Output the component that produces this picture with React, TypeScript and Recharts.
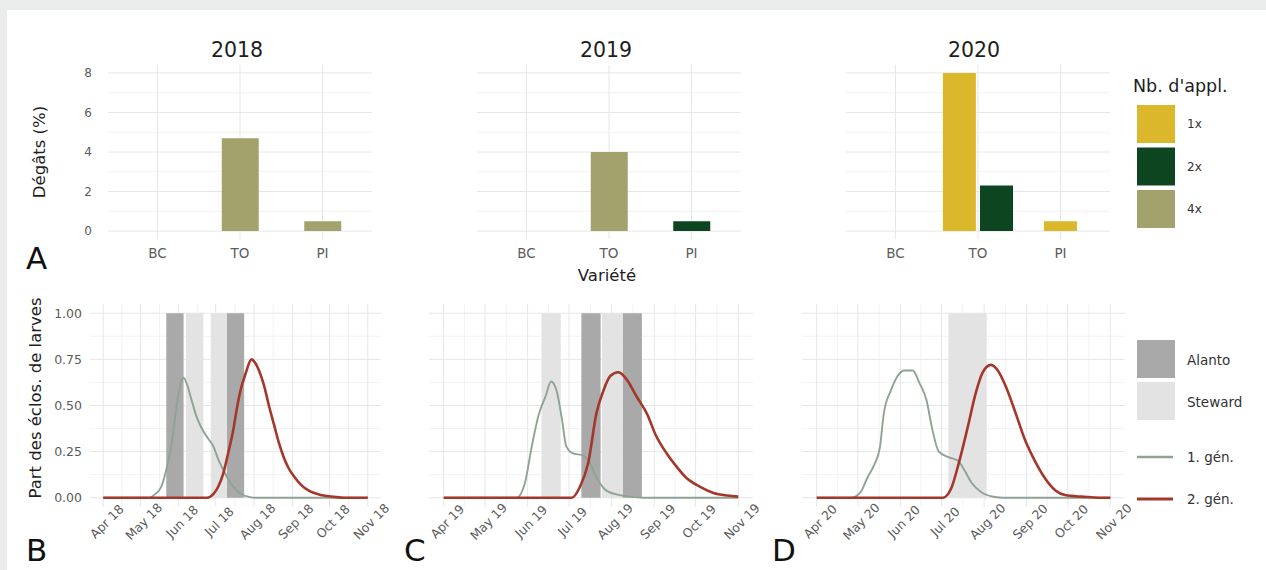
import { BarChart, Bar, Cell, ComposedChart, Line, XAxis, YAxis, CartesianGrid, ReferenceArea } from 'recharts';

const FONT = '"DejaVu Sans", "Liberation Sans", sans-serif';
const TICK_COLOR = '#5c5c5c';
const GRID_MAJOR = '#e6e6e6';
const GRID_MINOR = '#f2f2f2';

// --- Dégâts (%) par variété et nombre d'applications ---
const varieties = ['BC', 'TO', 'PI'];
const applLevels = ['1x', '2x', '4x'];
const applColors: Record<string, string> = { '1x': '#dbb72b', '2x': '#0e4521', '4x': '#a3a16c' };
const damageTicks = [0, 2, 4, 6, 8];

const damage2018 = [
  { variety: 'TO', appl: '4x', value: 4.7 },
  { variety: 'PI', appl: '4x', value: 0.5 },
];
const damage2019 = [
  { variety: 'TO', appl: '4x', value: 4.0 },
  { variety: 'PI', appl: '2x', value: 0.5 },
];
const damage2020 = [
  { variety: 'TO', appl: '1x', value: 8.0 },
  { variety: 'TO', appl: '2x', value: 2.3 },
  { variety: 'PI', appl: '1x', value: 0.5 },
];

// --- Part des éclosions de larves (date MM-DD, part) ---
const monthNames = ['Jan', 'Feb', 'Mar', 'Apr', 'May', 'Jun', 'Jul', 'Aug', 'Sep', 'Oct', 'Nov', 'Dec'];
const seasonTicks = ['04-01', '05-01', '06-01', '07-01', '08-01', '09-01', '10-01', '11-01'];
const shareTicks = [0, 0.25, 0.5, 0.75, 1];

const gen1_2018: [string, number][] = [
  ['04-01', 0], ['05-08', 0], ['05-13', 0.02], ['05-18', 0.06], ['05-23', 0.18], ['05-27', 0.32],
  ['05-30', 0.48], ['06-02', 0.6], ['06-05', 0.65], ['06-08', 0.61], ['06-11', 0.54], ['06-16', 0.43],
  ['06-21', 0.36], ['06-25', 0.32], ['06-29', 0.28], ['07-03', 0.21], ['07-08', 0.14], ['07-13', 0.08],
  ['07-18', 0.04], ['07-23', 0.015], ['07-28', 0.005], ['08-03', 0], ['11-01', 0],
];
const gen2_2018: [string, number][] = [
  ['04-01', 0], ['06-24', 0], ['06-29', 0.02], ['07-03', 0.06], ['07-07', 0.13], ['07-11', 0.24],
  ['07-15', 0.36], ['07-18', 0.48], ['07-21', 0.58], ['07-25', 0.67], ['07-30', 0.75], ['08-02', 0.73],
  ['08-05', 0.69], ['08-09', 0.61], ['08-13', 0.5], ['08-17', 0.4], ['08-21', 0.3], ['08-25', 0.22],
  ['08-29', 0.16], ['09-03', 0.11], ['09-08', 0.07], ['09-14', 0.04], ['09-24', 0.015], ['10-05', 0.005],
  ['10-13', 0], ['11-01', 0],
];
const alanto2018: [string, string][] = [['05-22', '06-05'], ['07-10', '07-24']];
const steward2018: [string, string][] = [['06-07', '06-21'], ['06-27', '07-10']];

const gen1_2019: [string, number][] = [
  ['04-01', 0], ['05-24', 0], ['05-30', 0.08], ['06-04', 0.28], ['06-09', 0.45], ['06-14', 0.55],
  ['06-18', 0.63], ['06-22', 0.58], ['06-26', 0.42], ['06-29', 0.28], ['07-04', 0.24], ['07-11', 0.23],
  ['07-16', 0.19], ['07-21', 0.11], ['07-28', 0.04], ['08-07', 0.014], ['08-17', 0.004], ['08-25', 0],
  ['11-01', 0],
];
const gen2_2019: [string, number][] = [
  ['04-01', 0], ['07-03', 0], ['07-09', 0.06], ['07-15', 0.19], ['07-21', 0.46], ['07-26', 0.58],
  ['07-31', 0.66], ['08-06', 0.68], ['08-12', 0.64], ['08-19', 0.55], ['08-27', 0.45], ['09-02', 0.34],
  ['09-10', 0.24], ['09-17', 0.17], ['09-24', 0.11], ['10-04', 0.06], ['10-14', 0.026], ['10-24', 0.012],
  ['11-01', 0.006],
];
const alanto2019: [string, string][] = [['07-10', '07-24'], ['08-09', '08-23']];
const steward2019: [string, string][] = [['06-11', '06-25'], ['07-25', '08-09']];

const gen1_2020: [string, number][] = [
  ['04-01', 0], ['04-26', 0], ['05-03', 0.03], ['05-08', 0.11], ['05-13', 0.18], ['05-17', 0.27],
  ['05-20', 0.46], ['05-25', 0.58], ['05-30', 0.66], ['06-04', 0.69], ['06-10', 0.69], ['06-15', 0.62],
  ['06-20', 0.53], ['06-24', 0.38], ['06-29', 0.25], ['07-06', 0.22], ['07-13', 0.2], ['07-18', 0.145],
  ['07-23', 0.08], ['07-30', 0.03], ['08-09', 0.004], ['08-15', 0], ['11-01', 0],
];
const gen2_2020: [string, number][] = [
  ['04-01', 0], ['07-02', 0], ['07-08', 0.05], ['07-14', 0.2], ['07-20', 0.38], ['07-26', 0.57],
  ['07-31', 0.68], ['08-06', 0.72], ['08-11', 0.69], ['08-17', 0.6], ['08-23', 0.48], ['08-31', 0.31],
  ['09-07', 0.2], ['09-14', 0.11], ['09-22', 0.04], ['09-29', 0.015], ['10-11', 0.006], ['10-18', 0.003],
  ['10-25', 0], ['11-01', 0],
];
const alanto2020: [string, string][] = [];
const steward2020: [string, string][] = [['07-06', '08-03']];

const ALANTO = '#a9a9a9';
const STEWARD = '#e3e3e3';
const GEN1 = '#8fa394';
const GEN2 = '#a5372a';

const ts = (year: number, md: string) => {
  const [m, d] = md.split('-').map(Number);
  return Date.UTC(year, m - 1, d);
};

// dodge like position_dodge2(preserve = "single")
const DODGE = 0.45;
function dodge(rows: { variety: string; appl: string; value: number }[]) {
  return rows.map((r) => {
    const group = rows.filter((o) => o.variety === r.variety);
    const k = group.indexOf(r);
    return { ...r, pos: varieties.indexOf(r.variety) + 1 + (k - (group.length - 1) / 2) * DODGE };
  });
}

function DamagePanel({ rows, plotLeft, showY }: { rows: any[]; plotLeft: number; showY: boolean }) {
  const data = dodge(rows);
  const maxGroup = Math.max(...varieties.map((v) => rows.filter((r) => r.variety === v).length));
  const yW = showY ? 40 : 0;
  return (
    <div style={{ position: 'absolute', left: plotLeft - yW, top: 65 }}>
      <BarChart width={yW + 264} height={204} data={data} margin={{ top: 0, right: 0, bottom: 0, left: 0 }}>
        <CartesianGrid vertical={false} horizontalValues={[1, 3, 5, 7]} stroke={GRID_MINOR} />
        <CartesianGrid horizontalValues={damageTicks} verticalValues={[1, 2, 3]} stroke={GRID_MAJOR} />
        <XAxis
          type="number"
          dataKey="pos"
          domain={[0.4, 3.6]}
          ticks={[1, 2, 3]}
          tickFormatter={(v: number) => varieties[v - 1]}
          axisLine={false}
          tickLine={false}
          tickSize={0}
          tickMargin={9}
          height={30}
          tick={{ fontSize: 13.5, fill: TICK_COLOR, fontFamily: FONT }}
        />
        <YAxis
          type="number"
          domain={[-0.4, 8.4]}
          ticks={damageTicks}
          hide={!showY}
          width={yW}
          axisLine={false}
          tickLine={false}
          tickSize={0}
          tickMargin={16}
          tick={{ fontSize: 12, fill: TICK_COLOR, fontFamily: FONT }}
        />
        <Bar dataKey="value" barSize={maxGroup > 1 ? 33 : 37} isAnimationActive={false}>
          {data.map((d, i) => (
            <Cell key={i} fill={applColors[d.appl]} />
          ))}
        </Bar>
      </BarChart>
    </div>
  );
}

function DateTick(props: any) {
  const { x, y, payload, year } = props;
  const d = new Date(payload.value);
  const label = `${monthNames[d.getUTCMonth()]} ${String(year).slice(2)}`;
  return (
    <text
      x={x}
      y={y}
      transform={`rotate(-45 ${x} ${y})`}
      textAnchor="middle"
      dy="0.75em"
      fontSize={12.5}
      fill={TICK_COLOR}
      fontFamily={FONT}
    >
      {label}
    </text>
  );
}

function EmergencePanel(props: {
  year: number;
  gen1: [string, number][];
  gen2: [string, number][];
  alanto: [string, string][];
  steward: [string, string][];
  plotLeft: number;
  plotWidth: number;
  showY: boolean;
}) {
  const { year, gen1, gen2, alanto, steward, plotLeft, plotWidth, showY } = props;
  const start = ts(year, seasonTicks[0]);
  const end = ts(year, seasonTicks[seasonTicks.length - 1]);
  const pad = (end - start) * 0.05;
  const ticks = seasonTicks.map((m) => ts(year, m));
  const minorX = ticks.slice(1).map((t, i) => (t + ticks[i]) / 2);
  const yW = showY ? 40 : 0;
  const side = 20;
  const toPoints = (s: [string, number][]) => s.map(([md, v]) => ({ t: ts(year, md), v }));
  return (
    <div style={{ position: 'absolute', left: plotLeft - yW - side, top: 304 }}>
      <ComposedChart width={yW + plotWidth + 2 * side} height={263} margin={{ top: 0, right: side, bottom: 0, left: side }}>
        <CartesianGrid horizontalValues={[0.125, 0.375, 0.625, 0.875]} verticalValues={minorX} stroke={GRID_MINOR} />
        <CartesianGrid horizontalValues={shareTicks} verticalValues={ticks} stroke={GRID_MAJOR} />
        <XAxis
          type="number"
          dataKey="t"
          domain={[start - pad, end + pad]}
          ticks={ticks}
          axisLine={false}
          tickLine={false}
          tickSize={0}
          tickMargin={11}
          height={60}
          interval={0}
          tick={(p: any) => <DateTick {...p} year={year} />}
        />
        <YAxis
          type="number"
          domain={[-0.05, 1.05]}
          ticks={shareTicks}
          tickFormatter={(v: number) => v.toFixed(2)}
          hide={!showY}
          width={yW}
          axisLine={false}
          tickLine={false}
          tickSize={0}
          tickMargin={8}
          tick={{ fontSize: 12.5, fill: TICK_COLOR, fontFamily: FONT }}
        />
        {alanto.map(([a, b], i) => (
          <ReferenceArea key={'a' + i} x1={ts(year, a)} x2={ts(year, b)} y1={0} y2={1} fill={ALANTO} fillOpacity={1} stroke="none" />
        ))}
        {steward.map(([a, b], i) => (
          <ReferenceArea key={'s' + i} x1={ts(year, a)} x2={ts(year, b)} y1={0} y2={1} fill={STEWARD} fillOpacity={1} stroke="none" />
        ))}
        <Line data={toPoints(gen1)} dataKey="v" type="monotone" stroke={GEN1} strokeWidth={1.9} dot={false} isAnimationActive={false} />
        <Line data={toPoints(gen2)} dataKey="v" type="monotone" stroke={GEN2} strokeWidth={2.6} dot={false} isAnimationActive={false} />
      </ComposedChart>
    </div>
  );
}

function Overlay() {
  const t = { fontFamily: FONT };
  return (
    <svg width={1266} height={570} style={{ position: 'absolute', left: 0, top: 0, pointerEvents: 'none' }}>
      {[['2018', 237], ['2019', 606], ['2020', 974]].map(([label, x]) => (
        <text key={label} x={x} y={57} textAnchor="middle" fontSize={20.5} fill="#1e1e1e" style={t}>
          {label}
        </text>
      ))}
      <text transform="translate(45 152) rotate(-90)" textAnchor="middle" fontSize={16.5} fill="#1e1e1e" style={t}>
        Dégâts (%)
      </text>
      <text transform="translate(41 398) rotate(-90)" textAnchor="middle" fontSize={16.5} fill="#1e1e1e" style={t}>
        Part des éclos. de larves
      </text>
      <text x={607} y={281} textAnchor="middle" fontSize={16.5} fill="#1e1e1e" style={t}>
        Variété
      </text>
      {[['A', 26, 269], ['B', 26, 561], ['C', 404, 561], ['D', 772, 561]].map(([l, x, y]) => (
        <text key={l as string} x={x} y={y} fontSize={31} fill="#111" style={t}>
          {l}
        </text>
      ))}

      {/* Nb. d'appl. */}
      <text x={1133} y={92} fontSize={17.5} fill="#1e1e1e" style={t}>
        Nb. d'appl.
      </text>
      {applLevels.map((lv, i) => (
        <g key={lv}>
          <rect x={1137} y={105 + i * 42.5} width={38} height={38} fill={applColors[lv]} />
          <text x={1187} y={105 + i * 42.5 + 23} fontSize={12} fill="#333" style={t}>
            {lv}
          </text>
        </g>
      ))}

      {/* Variétés traitées / générations */}
      <rect x={1137} y={340} width={38} height={38} fill={ALANTO} />
      <text x={1187} y={364.5} fontSize={13.5} fill="#333" style={t}>Alanto</text>
      <rect x={1137} y={382} width={38} height={38} fill={STEWARD} />
      <text x={1187} y={406.5} fontSize={13.5} fill="#333" style={t}>Steward</text>
      <line x1={1137} x2={1173} y1={457} y2={457} stroke={GEN1} strokeWidth={2.5} />
      <text x={1187} y={461.5} fontSize={13.5} fill="#333" style={t}>1. gén.</text>
      <line x1={1137} x2={1173} y1={499} y2={499} stroke={GEN2} strokeWidth={3} />
      <text x={1187} y={503.5} fontSize={13.5} fill="#333" style={t}>2. gén.</text>
    </svg>
  );
}

export default function App() {
  return (
    <div style={{ position: 'fixed', left: 0, top: 0, width: 1266, height: 570, background: '#eaeceb', fontFamily: FONT, overflow: 'hidden' }}>
      <div style={{ position: 'absolute', left: 7, top: 10, right: 0, bottom: 0, background: '#ffffff' }} />
      <DamagePanel rows={damage2018} plotLeft={108} showY />
      <DamagePanel rows={damage2019} plotLeft={477} showY={false} />
      <DamagePanel rows={damage2020} plotLeft={846} showY={false} />
      <EmergencePanel year={2018} gen1={gen1_2018} gen2={gen2_2018} alanto={alanto2018} steward={steward2018} plotLeft={90} plotWidth={291} showY />
      <EmergencePanel year={2019} gen1={gen1_2019} gen2={gen2_2019} alanto={alanto2019} steward={steward2019} plotLeft={429} plotWidth={324} showY={false} />
      <EmergencePanel year={2020} gen1={gen1_2020} gen2={gen2_2020} alanto={alanto2020} steward={steward2020} plotLeft={802} plotWidth={323} showY={false} />
      <Overlay />
    </div>
  );
}
